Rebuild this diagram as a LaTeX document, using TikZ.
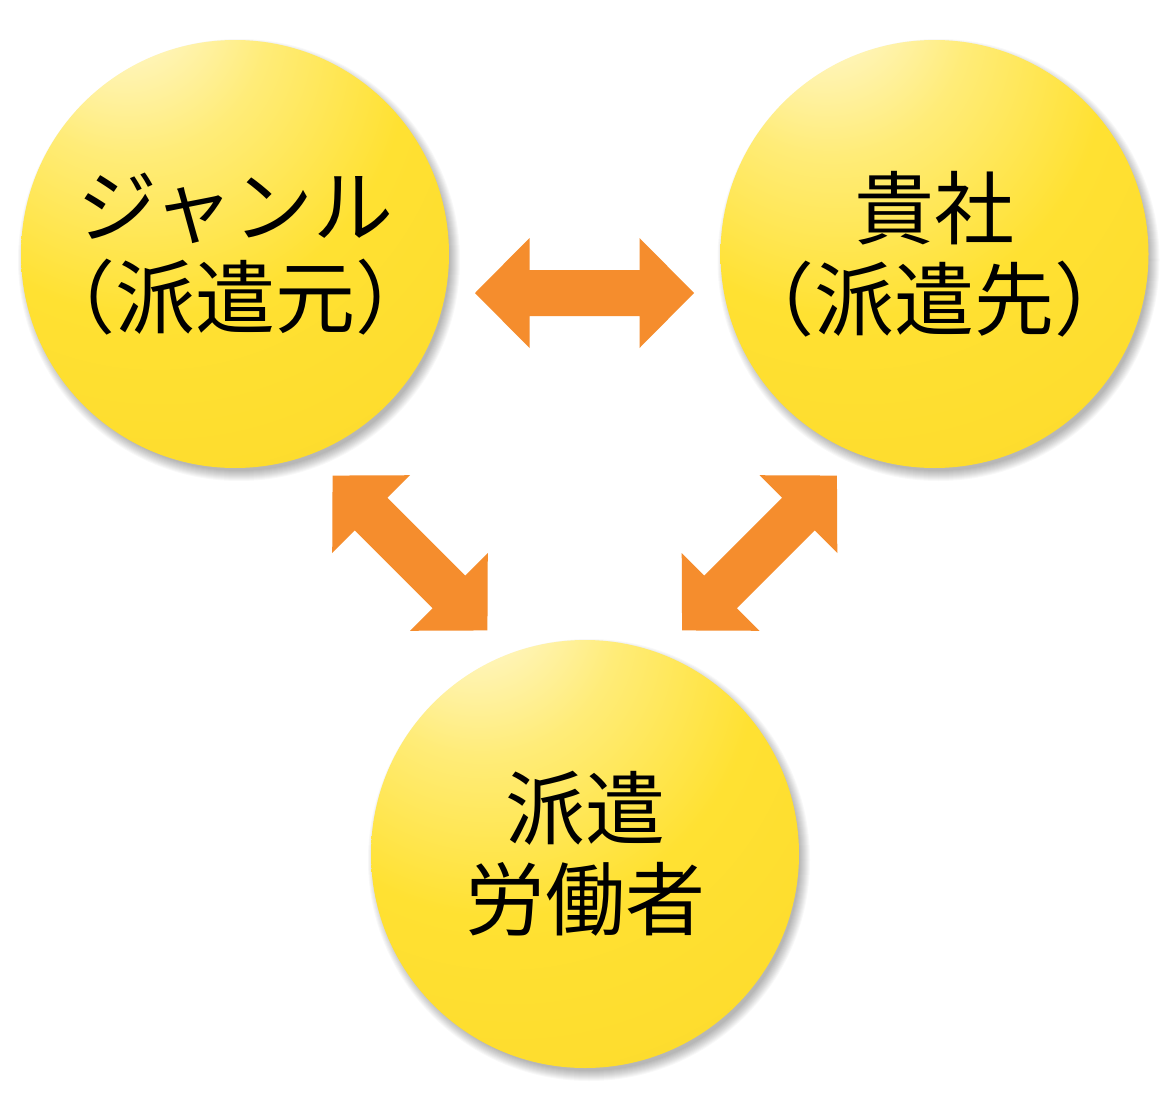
\documentclass[tikz,border=0pt]{standalone}
\usepackage{fontspec}
\newfontfamily\jp{Noto Sans CJK JP}
\newfontfamily\jph[RawFeature=+halt]{Noto Sans CJK JP}
\definecolor{ballA}{RGB}{255,251,230}
\definecolor{ballB}{RGB}{255,246,195}
\definecolor{ballC}{RGB}{255,236,120}
\definecolor{ballD}{RGB}{255,225,50}
\definecolor{ballE}{RGB}{253,219,45}
\definecolor{ballF}{RGB}{248,206,40}
\definecolor{ballG}{RGB}{241,191,36}
\definecolor{arrowor}{RGB}{245,141,45}
\pgfdeclareradialshading{yball}{\pgfpoint{-14.5bp}{33bp}}{%
  color(0bp)=(ballA); color(6bp)=(ballB); color(16bp)=(ballC);
  color(30bp)=(ballD); color(48bp)=(ballE); color(66bp)=(ballF);
  color(84bp)=(ballG); color(95bp)=(ballG)}
\tikzset{
  ball/.style={circle, minimum size=428pt, inner sep=0pt, shading=yball,
    align=center, font=\jp\fontsize{80}{91}\selectfont, text=black},
  dblarrow/.pic={
    \fill[arrowor] (-109.5,0) -- (-55,-55) -- (-55,-23) -- (55,-23) -- (55,-55)
      -- (109.5,0) -- (55,55) -- (55,23) -- (-55,23) -- (-55,55) -- cycle;
  }
}
\begin{document}
\begin{tikzpicture}[x=1pt,y=-1pt]
\useasboundingbox[fill=white] (0,0) rectangle (1170,1100);
% positions
\coordinate (cL) at (235,254);
\coordinate (cR) at (934.5,254);
\coordinate (cB) at (585,854);
% soft shadows
\foreach \c in {cL,cR,cB}{
  \foreach \k in {0,...,10}{
    \fill[black, opacity=0.027] (\c) ++(4,6) circle (211+\k);
  }
}
% balls
\node[ball] (L) at (cL) {ジャンル\\{\jph （}派遣元{\jph ）}};
\node[ball] (R) at (cR) {貴社\\{\jph （}派遣先{\jph ）}};
\node[ball] (B) at (cB) {派遣\\労働者};
% arrows
\coordinate (aLR) at (584.5,293);
\coordinate (aLB) at (410,553);
\coordinate (aRB) at (759.5,553);
\pic at (aLR) {dblarrow};
\pic[rotate=-45] at (aLB) {dblarrow};
\pic[rotate=45] at (aRB) {dblarrow};
\end{tikzpicture}
\end{document}
